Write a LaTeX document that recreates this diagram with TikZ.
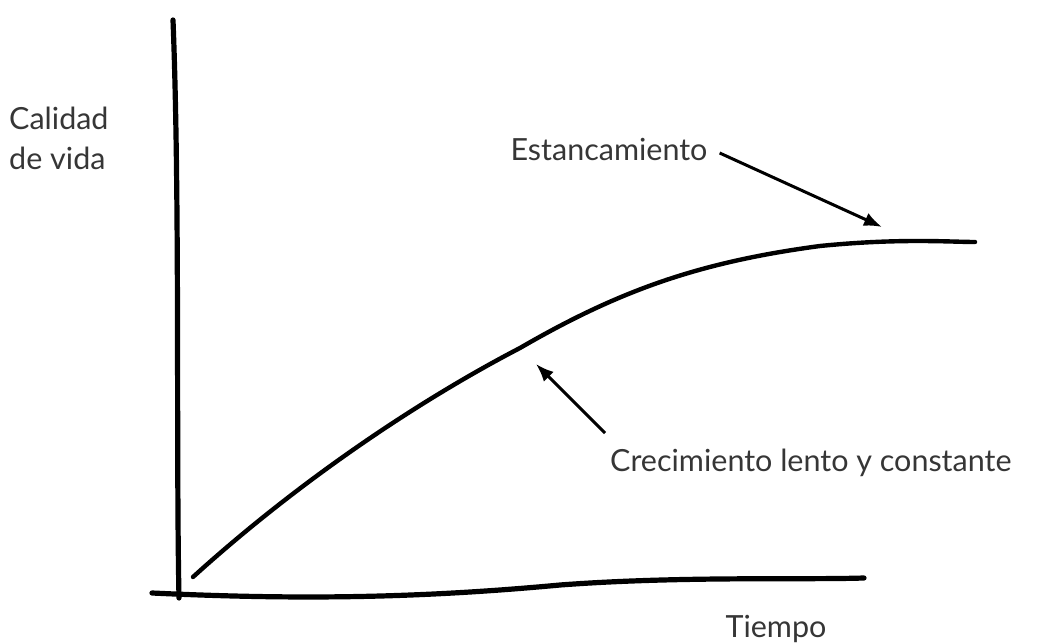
\documentclass[tikz,border=0pt]{standalone}
\usepackage{fontspec}
\setmainfont{Lato}
\usetikzlibrary{arrows.meta,positioning}

\definecolor{textgray}{HTML}{363636}
\tikzset{
  label text/.style={font=\fontsize{30.5}{40}\selectfont, text=textgray, inner sep=0pt},
  axis line/.style={line width=5.2pt, line cap=round},
  pointer/.style={line width=3pt, -{Latex[length=18pt,width=14pt]}}
}

\begin{document}
\begin{tikzpicture}[x=1pt,y=-1pt]
  \useasboundingbox (0,0) rectangle (1042,644);
  % axes
  \draw[axis line] (173,20) .. controls (180,200) and (176,450) .. (179,598);
  \draw[axis line] (152,593) .. controls (300,600) and (420,598) .. (560,585)
                   .. controls (680,576) and (800,580) .. (864,578);
  % curve
  \draw[line width=4.4pt, line cap=round] (193,577)
        .. controls (300,480) and (420,400) .. (520,348)
        .. controls (620,290) and (700,262) .. (820,246)
        .. controls (900,238) and (950,242) .. (975,242);
  % labels
  \node[label text, anchor=west, align=left] (ylab) at (9,138) {Calidad\\de vida};
  \node[label text] (xlab) at (776,629) {Tiempo};
  \node[label text] (stall) at (609,149) {Estancamiento};
  \node[label text, anchor=west] (growth) at (610,463) {Crecimiento lento y constante};
  \coordinate (stallTip) at (882,227);
  \coordinate (growthTip) at (536,364);
  \draw[pointer] ([xshift=12pt,yshift=-4pt]stall.east) -- (stallTip);
  \draw[pointer] ([xshift=-5pt,yshift=30pt]growth.west) -- (growthTip);
\end{tikzpicture}
\end{document}
